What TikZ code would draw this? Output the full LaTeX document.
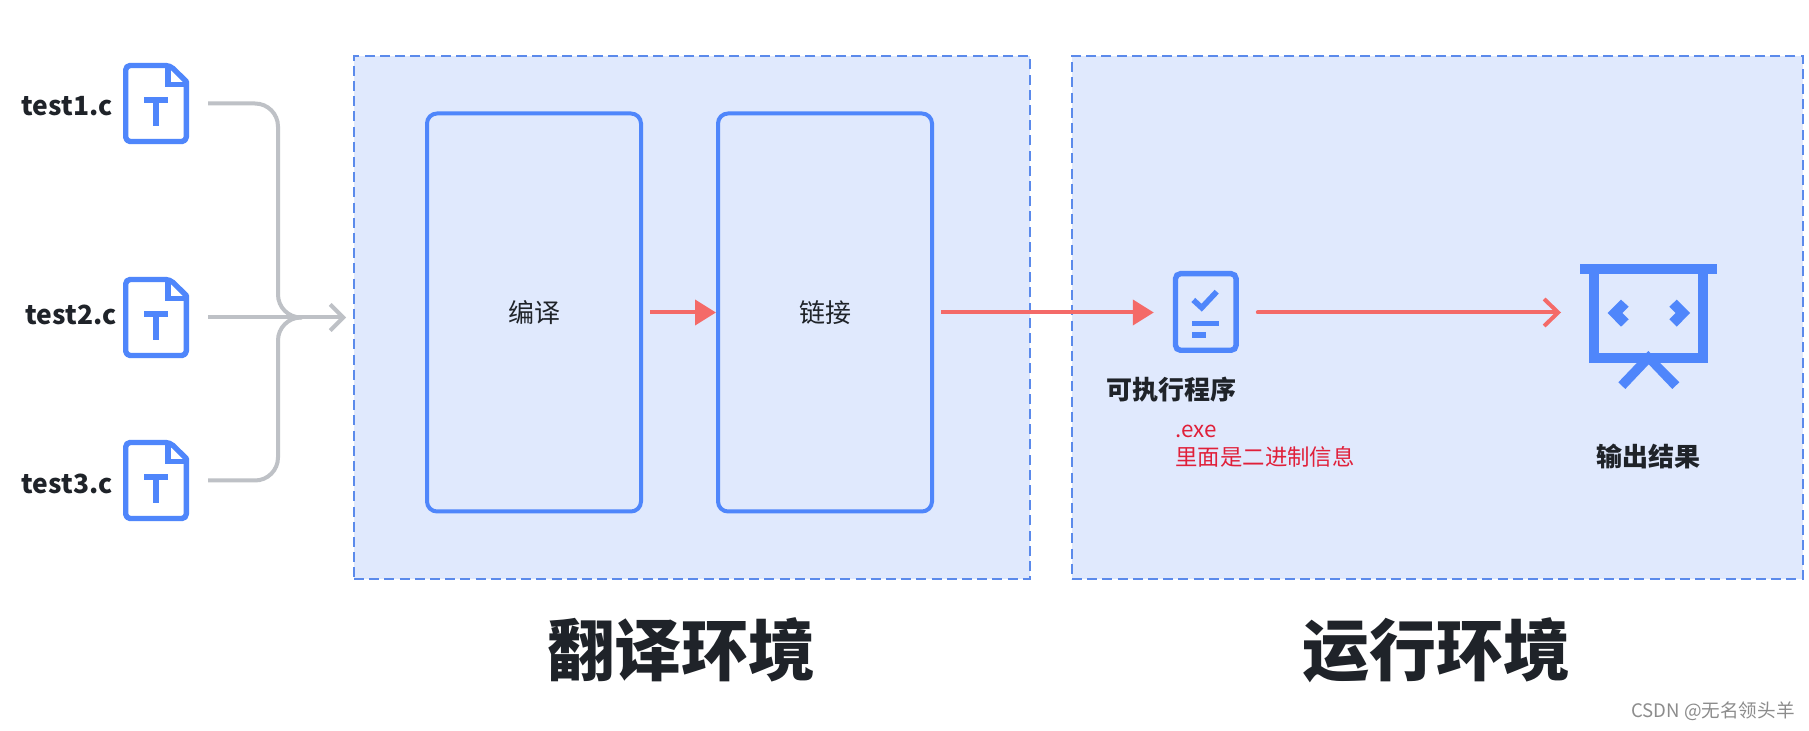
\documentclass[tikz,border=0pt]{standalone}
\usepackage{fontspec}
\setmainfont{Noto Sans CJK SC}
\usetikzlibrary{arrows.meta,calc}
\definecolor{panelfill}{HTML}{E0E9FD}
\definecolor{paneledge}{HTML}{5B8AEB}
\definecolor{iconblue}{HTML}{4F86FB}
\definecolor{graycon}{HTML}{BEC1C6}
\definecolor{redcon}{HTML}{F46A68}
\definecolor{inkdark}{HTML}{1F2329}
\definecolor{redtext}{HTML}{E0203A}
\definecolor{wmgray}{HTML}{8C8C8C}
\tikzset{
 x=0.5pt,y=-0.5pt,
 panel/.style={draw=paneledge,fill=panelfill,line width=1pt,dash pattern=on 5pt off 2.6pt,minimum width=#1,anchor=north west,minimum height=261.5pt,inner sep=0,outer sep=0},
 stagebox/.style={draw=iconblue,fill=panelfill,line width=2pt,rounded corners=5pt,minimum width=107pt,minimum height=199pt,inner sep=0},
 fileicon/.style={minimum width=33pt,minimum height=40.5pt,inner sep=0,outer sep=0},
 ftext/.style={font=\fontsize{13.2}{16}\selectfont\bfseries,text=inkdark,inner sep=0},
 labelb/.style={font=\fontsize{13}{15}\selectfont\bfseries,text=inkdark,inner sep=0},
 labeln/.style={font=\fontsize{13}{15}\selectfont,text=inkdark,inner sep=0},
 redlabel/.style={font=\fontsize{11.2}{14}\selectfont,text=redtext,inner sep=0,align=left,anchor=north west},
 title/.style={font=\fontsize{33.5}{38}\selectfont\bfseries,text=inkdark,inner sep=0},
 graycn/.style={draw=graycon,line width=2pt,rounded corners=11.5pt},
 redcn/.style={draw=redcon,line width=2pt},
 solidtip/.style={-{Triangle[length=10.5pt,width=12.5pt]}},
 iconline/.style={draw=iconblue,line width=2.7pt},
 iconfill/.style={fill=iconblue,draw=none},
}
\newcommand{\drawfile}[1]{%
 \begin{scope}[shift={(#1.center)}]
 \draw[iconline,line join=round,rounded corners=2.2pt] (-30.3,0) -- (-30.3,-38) -- (14,-38) [sharp corners] -- (30.3,-22) [rounded corners=2.2pt] -- (30.3,38) -- (-30.3,38) -- cycle;
 \draw[iconline] (11.85,-38) -- (11.85,-19.2) -- (30.3,-19.2);
 \path[iconfill] (-11.7,-6.5) rectangle (11.7,-0.8);
 \path[iconfill] (-3,-6.5) rectangle (3.3,22.8);
 \end{scope}
}
\begin{document}
\begin{tikzpicture}
\useasboundingbox[fill=white] (0,0) rectangle (1809,731);
% panels
\node[panel=338pt] (transenv) at (354,56) {};
\node[panel=365.5pt] (runenv) at (1072,56) {};
% stages
\node[stagebox] (compile) at (534,312.5) {};
\node[labeln] (compilelabel) at (compile.center) {编译};
\node[stagebox] (link) at (825,312.5) {};
\node[labeln] (linklabel) at (link.center) {链接};
% files
\node[fileicon] (f1) at (156,103.5) {};
\node[fileicon] (f2) at (156,317.5) {};
\node[fileicon] (f3) at (156,480.5) {};
\drawfile{f1}\drawfile{f2}\drawfile{f3}
\node[ftext] (t1) at (67,106) {test1.c};
\node[ftext] (t2) at (71,315) {test2.c};
\node[ftext] (t3) at (67,484) {test3.c};
% gray connectors
\coordinate (merge) at (302,317.5);
\coordinate (grayend) at (346,317.5);
\draw[graycn] ($(f1.east)+(19,0)$) -- (278,103.5) -- (278,317.5) -- (merge);
\draw[graycn] ($(f3.east)+(19,0)$) -- (278,480.5) -- (278,317.5) -- (merge);
\draw[graycn,rounded corners=0pt,-{Straight Barb[length=6.5pt,width=13pt,line width=2pt]}] ($(f2.east)+(19,0)$) -- (grayend);
% exe icon
\node[minimum width=33pt,minimum height=41pt,inner sep=0,outer sep=0] (exe) at (1205.8,312.5) {};
\draw[iconline,rounded corners=2.5pt] ($(exe.north west)+(2.7,2.2)$) rectangle ($(exe.south east)+(-2.7,-3.2)$);
\draw[draw=iconblue,line width=2.8pt] (1193.3,300) -- (1201.7,307.7) -- (1216.7,291.7);
\path[iconfill] (1192.3,321) rectangle (1219,326.5);
\path[iconfill] (1192.3,332.3) rectangle (1205.7,337.7);
\node[labelb] (exelabel) at (1171.5,390) {可执行程序};
\node[redlabel] (exenote) at (1175,425) {.exe\\里面是二进制信息};
% screen icon
\node[minimum width=68pt,minimum height=63pt,inner sep=0,outer sep=0] (screen) at (1648.5,326) {};
\path[iconfill] (1580,263.7) rectangle (1717,273.7);
\draw[draw=iconblue,line width=5pt,line join=miter] (1594.2,270) -- (1594.2,357.7) -- (1703.2,357.7) -- (1703.2,270);
\path[iconfill] (1648.3,351) -- (1679.3,382.3) -- (1672.3,389) -- (1648.7,364.3) -- (1625.3,389) -- (1618.3,382.3) -- cycle;
\path[iconfill] (1607.7,313) -- (1621,299.7) -- (1628.7,306.7) -- (1622.3,313) -- (1628.7,319.3) -- (1621,326.7) -- cycle;
\path[iconfill] (1690,313) -- (1676.7,299.7) -- (1669.3,306.7) -- (1675.7,313) -- (1669.3,319.3) -- (1676.7,326.7) -- cycle;
\node[labelb] (resultlabel) at (1648.5,457) {输出结果};
% red connectors
\draw[redcn,solidtip] ([xshift=3.5pt]compile.east) -- (link.west);
\draw[redcn,solidtip] ([xshift=3.5pt]link.east) -- ([xshift=-9.5pt]exe.west);
\coordinate (screenin) at (1561,312.5);
\draw[redcn,line cap=round,-{Straight Barb[length=7pt,width=13.5pt,line width=2pt]}] ([xshift=9.5pt]exe.east) -- (screenin);
% titles
\node[title] (title1) at (681,650) {翻译环境};
\node[title] (title2) at (1436,650) {运行环境};
\node[font=\fontsize{9.3}{11}\selectfont,text=wmgray,inner sep=0,anchor=east] (wmark) at (1795,711) {CSDN @无名领头羊};
\end{tikzpicture}
\end{document}
